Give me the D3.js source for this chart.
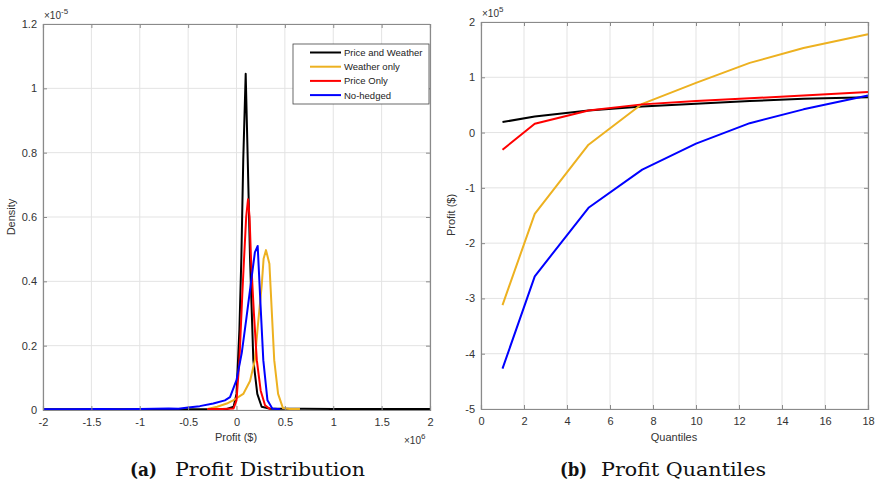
<!DOCTYPE html>
<html>
<head>
<meta charset="utf-8">
<script src="https://cdn.jsdelivr.net/npm/d3@7"></script>
<style>
  body { margin: 0; background: #fff; }
  svg text { font-family: "Liberation Sans", Arial, sans-serif; }
</style>
</head>
<body>
<svg id="chart" width="877" height="486"></svg>
<script>
// ---- data: (a) profit distribution, x in 1e6 $, density in 1e-5 ----
var priceWeather = [[-2,0.002],[-1.5,0.002],[-1,0.002],[-0.5,0.002],[-0.1,0.003],[-0.03,0.01],[0,0.05],[0.03,0.25],[0.05,0.47],[0.07,0.78],[0.095,1.045],[0.116,0.78],[0.14,0.47],[0.174,0.155],[0.215,0.05],[0.26,0.01],[0.35,0.004],[0.5,0.004],[0.7,0.004],[1,0.003],[1.3,0.003],[1.6,0.003],[2,0.003]];
var weatherOnly = [[-0.3,0.003],[-0.2,0.01],[-0.1,0.02],[-0.035,0.03],[0.07,0.05],[0.14,0.09],[0.19,0.155],[0.22,0.26],[0.26,0.385],[0.28,0.47],[0.305,0.497],[0.34,0.455],[0.39,0.155],[0.43,0.05],[0.48,0.006],[0.55,0.003],[0.656,0.003]];
var priceOnly = [[-0.3,0.003],[-0.15,0.003],[-0.03,0.005],[0,0.03],[0.03,0.155],[0.06,0.36],[0.078,0.47],[0.1,0.6],[0.119,0.655],[0.135,0.6],[0.15,0.47],[0.18,0.3],[0.21,0.155],[0.25,0.06],[0.295,0.015],[0.35,0.002]];
var noHedged = [[-2,0.002],[-1.7,0.002],[-1.4,0.003],[-1.2,0.002],[-1,0.003],[-0.85,0.004],[-0.7,0.005],[-0.6,0.004],[-0.5,0.008],[-0.38,0.012],[-0.24,0.02],[-0.12,0.03],[-0.067,0.04],[0,0.093],[0.054,0.177],[0.1,0.28],[0.157,0.414],[0.19,0.49],[0.219,0.51],[0.243,0.36],[0.277,0.155],[0.32,0.03],[0.37,0.005],[0.45,0.002]];

// ---- data: (b) profit quantiles, values in 1e5 $ ----
var quantiles = [1, 2.5, 5, 7.5, 10, 12.5, 15, 18];
var qPriceWeather = [0.19, 0.29, 0.40, 0.47, 0.52, 0.57, 0.61, 0.64];
var qWeatherOnly = [-3.12, -1.47, -0.22, 0.52, 0.90, 1.26, 1.53, 1.78];
var qPriceOnly = [-0.31, 0.16, 0.40, 0.51, 0.57, 0.62, 0.67, 0.735];
var qNoHedged = [-4.27, -2.60, -1.36, -0.67, -0.20, 0.17, 0.42, 0.67];

var seriesNames = ["Price and Weather", "Weather only", "Price Only", "No-hedged"];
var seriesColors = ["#000000", "#EDB120", "#FF0000", "#0000FF"];

var xTicksA = [-2, -1.5, -1, -0.5, 0, 0.5, 1, 1.5, 2];
var yTicksA = [0, 0.2, 0.4, 0.6, 0.8, 1, 1.2];
var xTicksB = [0, 2, 4, 6, 8, 10, 12, 14, 16, 18];
var yTicksB = [-5, -4, -3, -2, -1, 0, 1, 2];

var svg = d3.select("#chart");

function drawPanel(opt) {
  var g = svg.append("g");
  var x = opt.x, y = opt.y;
  var x0 = x.range()[0], x1 = x.range()[1], y0 = y.range()[0], y1 = y.range()[1];

  // grid
  g.selectAll(".gx").data(opt.xTicks).enter().append("line")
    .attr("x1", d => x(d)).attr("x2", d => x(d)).attr("y1", y0).attr("y2", y1)
    .attr("stroke", "#e3e3e3").attr("stroke-width", 1);
  g.selectAll(".gy").data(opt.yTicks).enter().append("line")
    .attr("x1", x0).attr("x2", x1).attr("y1", d => y(d)).attr("y2", d => y(d))
    .attr("stroke", "#e3e3e3").attr("stroke-width", 1);

  // lines
  var line = d3.line().x(d => x(d[0])).y(d => y(d[1]));
  opt.series.forEach(function (s, i) {
    g.append("path").datum(s).attr("d", line)
      .attr("fill", "none").attr("stroke", seriesColors[i])
      .attr("stroke-width", 2).attr("stroke-linejoin", "round");
  });

  // axes (ticks inside, MATLAB style)
  var ax = g.append("g").attr("transform", "translate(0," + y0 + ")")
    .call(d3.axisBottom(x).tickValues(opt.xTicks).tickSize(-4).tickPadding(8).tickFormat(d3.format("")));
  var ay = g.append("g").attr("transform", "translate(" + x0 + ",0)")
    .call(d3.axisLeft(y).tickValues(opt.yTicks).tickSize(-4).tickPadding(6).tickFormat(d3.format("")));
  var axT = g.append("g").attr("transform", "translate(0," + y1 + ")")
    .call(d3.axisTop(x).tickValues(opt.xTicks).tickSize(-4).tickFormat(""));
  var ayR = g.append("g").attr("transform", "translate(" + x1 + ",0)")
    .call(d3.axisRight(y).tickValues(opt.yTicks).tickSize(-4).tickFormat(""));
  [ax, ay, axT, ayR].forEach(function (a) {
    a.select(".domain").attr("stroke", "#8a8a8a").attr("stroke-width", 1.2);
    a.selectAll(".tick line").attr("stroke", "#8a8a8a");
    a.selectAll("text").attr("font-size", 11).attr("fill", "#333")
      .attr("font-family", "Liberation Sans, Arial, sans-serif");
  });
  ax.selectAll("text").text(d => d3.format("")(d).replace("−", "-"));
  ay.selectAll("text").text(d => d3.format("")(d).replace("−", "-"));
  return g;
}

// ---- panel (a) ----
var xa = d3.scaleLinear().domain([-2, 2]).range([43, 430]);
var ya = d3.scaleLinear().domain([0, 1.2]).range([410, 24]);
var ga = drawPanel({x: xa, y: ya, xTicks: xTicksA, yTicks: yTicksA,
  series: [priceWeather, weatherOnly, priceOnly, noHedged]});

ga.append("text").attr("x", 236).attr("y", 441).attr("text-anchor", "middle")
  .attr("font-size", 11).attr("fill", "#333").text("Profit ($)");
ga.append("text").attr("transform", "translate(15,217) rotate(-90)").attr("text-anchor", "middle")
  .attr("font-size", 11).attr("fill", "#333").text("Density");
var ea = ga.append("text").attr("x", 44).attr("y", 19).attr("font-size", 10).attr("fill", "#333");
ea.append("tspan").text("\u00d710");
ea.append("tspan").attr("dy", -5).attr("font-size", 8).text("-5");
var eb = ga.append("text").attr("x", 404).attr("y", 444).attr("font-size", 10).attr("fill", "#333");
eb.append("tspan").text("\u00d710");
eb.append("tspan").attr("dy", -5).attr("font-size", 8).text("6");

// legend
var lg = ga.append("g");
lg.append("rect").attr("x", 293).attr("y", 44).attr("width", 136).attr("height", 60)
  .attr("fill", "#fff").attr("stroke", "#444").attr("stroke-width", 0.8);
seriesNames.forEach(function (n, i) {
  var yy = 52.5 + i * 14.2;
  lg.append("line").attr("x1", 310).attr("x2", 341).attr("y1", yy).attr("y2", yy)
    .attr("stroke", seriesColors[i]).attr("stroke-width", 2);
  lg.append("text").attr("x", 344).attr("y", yy + 3.5).attr("font-size", 9.5)
    .attr("fill", "#222").text(n);
});

// ---- panel (b) ----
var xb = d3.scaleLinear().domain([0, 18]).range([481, 868]);
var yb = d3.scaleLinear().domain([-5, 2]).range([409, 22]);
var qSeries = [qPriceWeather, qWeatherOnly, qPriceOnly, qNoHedged].map(function (vals) {
  return quantiles.map(function (q, j) { return [q, vals[j]]; });
});
var gb = drawPanel({x: xb, y: yb, xTicks: xTicksB, yTicks: yTicksB, series: qSeries});

gb.append("text").attr("x", 674).attr("y", 441).attr("text-anchor", "middle")
  .attr("font-size", 11).attr("fill", "#333").text("Quantiles");
gb.append("text").attr("transform", "translate(455,215) rotate(-90)").attr("text-anchor", "middle")
  .attr("font-size", 11).attr("fill", "#333").text("Profit ($)");
var ec = gb.append("text").attr("x", 482).attr("y", 17).attr("font-size", 10).attr("fill", "#333");
ec.append("tspan").text("\u00d710");
ec.append("tspan").attr("dy", -5).attr("font-size", 8).text("5");

// ---- captions ----
function caption(xLabel, xTitle, titleLen, label, title) {
  var f = "'DejaVu Serif', 'Liberation Serif', serif";
  svg.append("text").attr("x", xLabel).attr("y", 476).attr("font-size", 18)
    .attr("font-weight", "bold").attr("fill", "#111").style("font-family", f)
    .attr("textLength", 27).attr("lengthAdjust", "spacingAndGlyphs")
    .text("(" + label + ")");
  svg.append("text").attr("x", xTitle).attr("y", 476).attr("font-size", 18)
    .attr("fill", "#111").style("font-family", f)
    .attr("textLength", titleLen).attr("lengthAdjust", "spacingAndGlyphs")
    .text(title);
}
caption(130, 175, 190, "a", "Profit Distribution");
caption(560, 601, 165, "b", "Profit Quantiles");
</script>
</body>
</html>
